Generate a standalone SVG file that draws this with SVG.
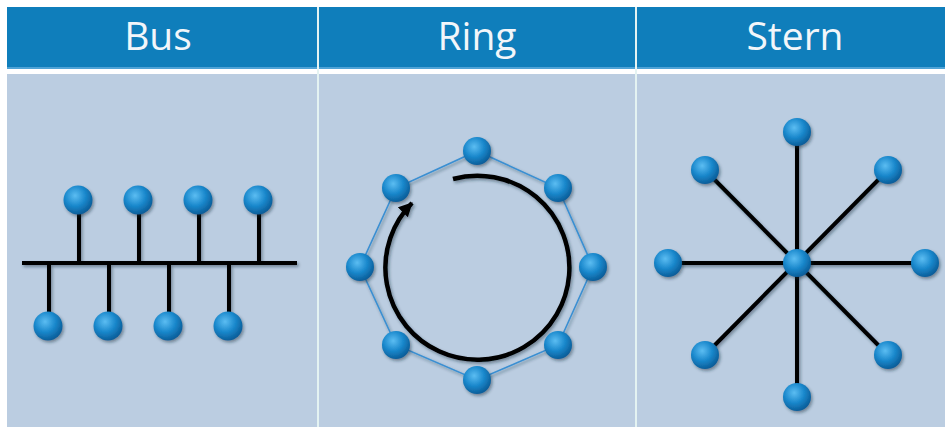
<svg xmlns="http://www.w3.org/2000/svg" width="945" height="427" viewBox="0 0 945 427">
<defs>
<radialGradient id="ball" cx="0.4" cy="0.35" r="0.65">
<stop offset="0" stop-color="#5cbdf2"/>
<stop offset="0.55" stop-color="#1a88cc"/>
<stop offset="1" stop-color="#0b5e9a"/>
</radialGradient>
<filter id="sh" x="-30%" y="-30%" width="160%" height="160%">
<feDropShadow dx="1.5" dy="2" stdDeviation="1.5" flood-color="#1c2a3a" flood-opacity="0.45"/>
</filter>
<marker id="ah" markerUnits="userSpaceOnUse" markerWidth="18" markerHeight="18" refX="13" refY="7" orient="auto">
<path d="M0,0 L14,7 L0,14 Z" fill="#000"/>
</marker>
<style>
.hdr{font-family:"Open Sans","Noto Sans","Liberation Sans",sans-serif;font-size:39px;fill:#f2f6fa;text-anchor:middle}
.n{fill:url(#ball);filter:url(#sh)}
.w{stroke:#000;stroke-width:4;fill:none;stroke-linecap:butt}
.rl{stroke:#3a8fd2;stroke-width:1.6;fill:none}
.div{stroke:#e4f3f2;stroke-width:2}
</style>
</defs>
<rect x="0" y="0" width="945" height="427" fill="#ffffff"/>
<rect x="7" y="7" width="938" height="60" fill="#0f7ebb"/>
<rect x="7" y="67" width="938" height="2" fill="#4fa3d6"/>
<rect x="7" y="74" width="938" height="353" fill="#bbcde1"/>
<line class="div" x1="318" y1="7" x2="318" y2="427"/>
<line class="div" x1="636" y1="7" x2="636" y2="427"/>
<text class="hdr" x="158" y="50">Bus</text>
<text class="hdr" x="477" y="50">Ring</text>
<text class="hdr" x="795" y="50">Stern</text>

<g id="connectors" filter="url(#sh)">
<g id="bus-lines" class="w">
<line x1="22" y1="263" x2="297" y2="263"/>
<line x1="79" y1="201" x2="79" y2="263"/>
<line x1="139" y1="201" x2="139" y2="263"/>
<line x1="199" y1="201" x2="199" y2="263"/>
<line x1="259" y1="201" x2="259" y2="263"/>
<line x1="49" y1="263" x2="49" y2="326"/>
<line x1="109" y1="263" x2="109" y2="326"/>
<line x1="169" y1="263" x2="169" y2="326"/>
<line x1="229" y1="263" x2="229" y2="326"/>
</g>
<polygon id="ring-lines" class="rl" points="477,151 558,188 593,267 558,345 477,380 396,345 360,267 396,188"/>
<path id="ring-arrow" class="w" style="stroke-width:4.5" d="M453,179 A92,92 0 1 1 412,203" marker-end="url(#ah)"/>
<g id="star-lines" class="w">
<line x1="797" y1="132" x2="797" y2="397"/>
<line x1="668" y1="263" x2="925" y2="263"/>
<line x1="705" y1="170" x2="888" y2="355"/>
<line x1="888" y1="170" x2="705" y2="355"/>
</g>
</g>

<g id="bus-t1"><circle class="n" cx="78" cy="200" r="14.5"/></g>
<g id="bus-t2"><circle class="n" cx="138" cy="200" r="14.5"/></g>
<g id="bus-t3"><circle class="n" cx="198" cy="200" r="14.5"/></g>
<g id="bus-t4"><circle class="n" cx="258" cy="200" r="14.5"/></g>
<g id="bus-b1"><circle class="n" cx="48" cy="326" r="14.5"/></g>
<g id="bus-b2"><circle class="n" cx="108" cy="326" r="14.5"/></g>
<g id="bus-b3"><circle class="n" cx="168" cy="326" r="14.5"/></g>
<g id="bus-b4"><circle class="n" cx="228" cy="326" r="14.5"/></g>

<g id="ring-1"><circle class="n" cx="477" cy="151" r="14"/></g>
<g id="ring-2"><circle class="n" cx="558" cy="188" r="14"/></g>
<g id="ring-3"><circle class="n" cx="593" cy="267" r="14"/></g>
<g id="ring-4"><circle class="n" cx="558" cy="345" r="14"/></g>
<g id="ring-5"><circle class="n" cx="477" cy="380" r="14"/></g>
<g id="ring-6"><circle class="n" cx="396" cy="345" r="14"/></g>
<g id="ring-7"><circle class="n" cx="360" cy="267" r="14"/></g>
<g id="ring-8"><circle class="n" cx="396" cy="188" r="14"/></g>

<g id="star-center"><circle class="n" cx="797" cy="263" r="14"/></g>
<g id="star-n"><circle class="n" cx="797" cy="132" r="14"/></g>
<g id="star-ne"><circle class="n" cx="888" cy="170" r="14"/></g>
<g id="star-e"><circle class="n" cx="925" cy="263" r="14"/></g>
<g id="star-se"><circle class="n" cx="888" cy="355" r="14"/></g>
<g id="star-s"><circle class="n" cx="797" cy="397" r="14"/></g>
<g id="star-sw"><circle class="n" cx="705" cy="355" r="14"/></g>
<g id="star-w"><circle class="n" cx="668" cy="263" r="14"/></g>
<g id="star-nw"><circle class="n" cx="705" cy="170" r="14"/></g>
</svg>
